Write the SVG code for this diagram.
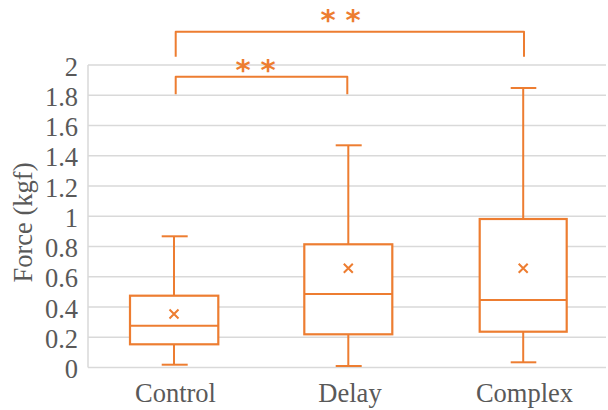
<svg xmlns="http://www.w3.org/2000/svg" width="608" height="410" viewBox="0 0 608 410">
<style>
.grid{stroke:#D9D9D9;stroke-width:1.5;fill:none}
.o{stroke:#ED7D31;stroke-width:2;fill:none}
.bx{stroke:#ED7D31;stroke-width:2.2;fill:#fff}
.tick{font-family:"Liberation Serif","Times New Roman",serif;font-size:26.5px;fill:#595959;text-anchor:end}
.cat{font-family:"Liberation Serif","Times New Roman",serif;font-size:26.5px;fill:#595959;text-anchor:middle}
.ast{font-family:"DejaVu Sans",sans-serif;font-size:29px;font-weight:bold;fill:#ED7D31;text-anchor:middle}
</style>
<rect width="608" height="410" fill="#fff"/>
<g id="grid">
<line class="grid" x1="88" y1="65" x2="606" y2="65"/>
<line class="grid" x1="88" y1="95.2" x2="606" y2="95.2"/>
<line class="grid" x1="88" y1="125.5" x2="606" y2="125.5"/>
<line class="grid" x1="88" y1="155.7" x2="606" y2="155.7"/>
<line class="grid" x1="88" y1="186" x2="606" y2="186"/>
<line class="grid" x1="88" y1="216.2" x2="606" y2="216.2"/>
<line class="grid" x1="88" y1="246.5" x2="606" y2="246.5"/>
<line class="grid" x1="88" y1="276.7" x2="606" y2="276.7"/>
<line class="grid" x1="88" y1="307" x2="606" y2="307"/>
<line class="grid" x1="88" y1="337.2" x2="606" y2="337.2"/>
<line class="grid" x1="88" y1="367.5" x2="606" y2="367.5"/>
<line class="grid" x1="88" y1="65" x2="88" y2="367.5"/>
</g>
<g id="yaxis">
<text class="tick" x="78" y="75.5">2</text>
<text class="tick" x="78" y="105.7">1.8</text>
<text class="tick" x="78" y="136">1.6</text>
<text class="tick" x="78" y="166.2">1.4</text>
<text class="tick" x="78" y="196.5">1.2</text>
<text class="tick" x="78" y="226.7">1</text>
<text class="tick" x="78" y="257">0.8</text>
<text class="tick" x="78" y="287.2">0.6</text>
<text class="tick" x="78" y="317.5">0.4</text>
<text class="tick" x="78" y="347.7">0.2</text>
<text class="tick" x="78" y="378">0</text>
<text class="cat" x="0" y="0" font-size="27.5" transform="translate(32,222.5) rotate(-90)">Force (kgf)</text>
</g>
<g id="control">
<line class="o" x1="174" y1="236.3" x2="174" y2="295.7"/>
<line class="o" x1="174" y1="344.3" x2="174" y2="364.7"/>
<line class="o" x1="161.7" y1="236.3" x2="187.7" y2="236.3"/>
<line class="o" x1="161.7" y1="364.7" x2="187.7" y2="364.7"/>
<rect class="bx" x="130" y="295.7" width="88.3" height="48.6"/>
<line class="o" x1="130" y1="325.7" x2="218.3" y2="325.7"/>
<path class="o" d="M169.5,309.5 L178.5,318.5 M178.5,309.5 L169.5,318.5"/>
<text class="cat" x="175.5" y="402">Control</text>
</g>
<g id="delay">
<line class="o" x1="348.3" y1="145.3" x2="348.3" y2="244.3"/>
<line class="o" x1="348.3" y1="334.3" x2="348.3" y2="366"/>
<line class="o" x1="335.7" y1="145.3" x2="361.7" y2="145.3"/>
<line class="o" x1="335.7" y1="366" x2="361.7" y2="366"/>
<rect class="bx" x="304.3" y="244.3" width="88" height="90"/>
<line class="o" x1="304.3" y1="294" x2="392.3" y2="294"/>
<path class="o" d="M343.8,263.8 L352.8,272.8 M352.8,263.8 L343.8,272.8"/>
<text class="cat" x="350" y="402">Delay</text>
</g>
<g id="complex">
<line class="o" x1="523.2" y1="88" x2="523.2" y2="219"/>
<line class="o" x1="523.2" y1="331.7" x2="523.2" y2="362.3"/>
<line class="o" x1="510.7" y1="88" x2="536.3" y2="88"/>
<line class="o" x1="510.7" y1="362.3" x2="536.3" y2="362.3"/>
<rect class="bx" x="479.7" y="219" width="87" height="112.7"/>
<line class="o" x1="479.7" y1="300" x2="566.7" y2="300"/>
<path class="o" d="M518.7,263.8 L527.7,272.8 M527.7,263.8 L518.7,272.8"/>
<text class="cat" x="524.5" y="402">Complex</text>
</g>
<g id="connectors">
<path class="o" stroke-linejoin="round" d="M175.7,94.3 V76.7 H347.3 V94.3"/>
<path class="o" stroke-linejoin="round" d="M175.7,56.7 V31.7 H524 V56.7"/>
<text class="ast" x="243" y="80">*</text>
<text class="ast" x="268" y="80">*</text>
<text class="ast" x="328" y="30">*</text>
<text class="ast" x="353" y="30">*</text>
</g>
</svg>
